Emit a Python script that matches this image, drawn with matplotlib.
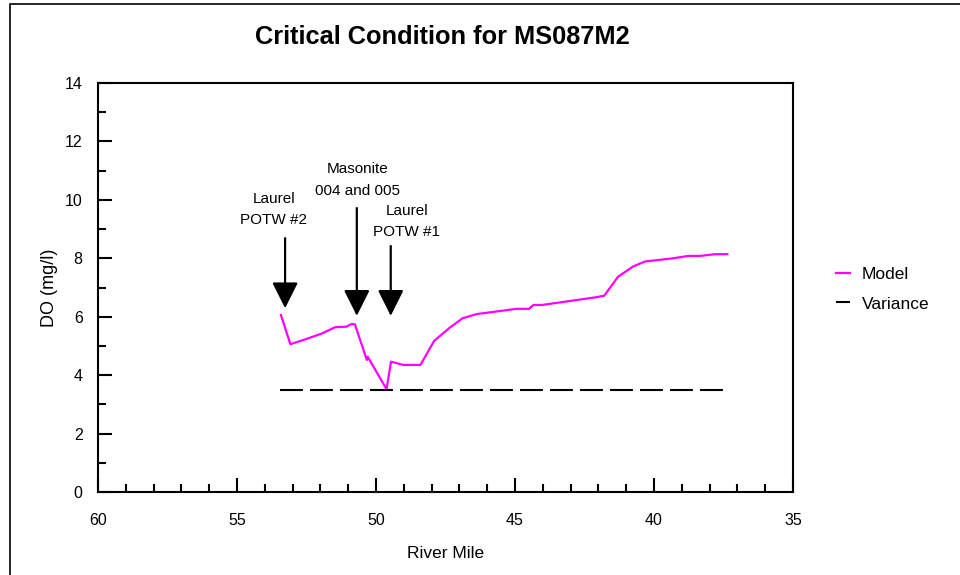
import matplotlib
matplotlib.use("Agg")
import matplotlib.pyplot as plt
from matplotlib.patches import Rectangle
from matplotlib.ticker import MultipleLocator

plt.rcParams['font.family'] = ['Liberation Sans', 'DejaVu Sans']

# model DO profile (river mile, mg/l)
model_mile = [53.42, 53.08, 52.62, 52.08, 51.96, 51.47, 51.06, 50.88, 50.76,
              50.33, 50.30, 49.62, 49.46, 49.02, 48.40, 47.91, 47.34, 46.88,
              46.38, 44.94, 44.49, 44.34, 44.04, 42.06, 41.79, 41.29, 40.75,
              40.32, 39.31, 38.77, 38.35, 37.81, 37.36]
model_do = [6.06, 5.06, 5.20, 5.38, 5.42, 5.64, 5.66, 5.75, 5.74,
            4.52, 4.63, 3.52, 4.46, 4.35, 4.35, 5.17, 5.63, 5.95,
            6.09, 6.27, 6.27, 6.40, 6.40, 6.67, 6.72, 7.37, 7.72,
            7.89, 8.00, 8.08, 8.08, 8.14, 8.14]

variance_mile = [53.47, 37.36]
variance_do = [3.5, 3.5]

# discharge markers: label, river mile, arrow tail, arrow tip
sources = ["Laurel\nPOTW #2", "Masonite\n004 and 005", "Laurel\nPOTW #1"]
source_mile = [53.27, 50.69, 49.47]
arrow_tail = [8.69, 9.72, 8.42]
arrow_tip = [6.29, 6.03, 6.03]
label_mile = [53.68, 50.65, 48.9]
label_y = [9.66, 10.68, 9.25]

fig = plt.figure(figsize=(9.6, 5.75), dpi=100)
ax = fig.add_axes([98 / 960, 1 - 492 / 575, 695 / 960, 409 / 575])

model_line, = ax.plot(model_mile, model_do, color='#ff00ff', lw=1.6)
var_line, = ax.plot(variance_mile, variance_do, color='black', lw=1.5)
var_line.set_dashes((11, 3.4))

for lab, xm, t0, t1, lx, ly in zip(sources, source_mile, arrow_tail, arrow_tip,
                                     label_mile, label_y):
    ax.annotate('', xy=(xm, t1), xytext=(xm, t0),
                arrowprops=dict(arrowstyle='-|>,head_width=0.4,head_length=0.8',
                                color='black', lw=1.6, shrinkA=0, shrinkB=0,
                                mutation_scale=20))
    ax.text(lx, ly, lab, ha='center', va='center', fontsize=11,
            linespacing=1.65)

ax.set_xlim(60, 35)
ax.set_ylim(0, 14)
ax.xaxis.set_major_locator(MultipleLocator(5))
ax.xaxis.set_minor_locator(MultipleLocator(1))
ax.yaxis.set_major_locator(MultipleLocator(2))
ax.yaxis.set_minor_locator(MultipleLocator(1))
ax.tick_params(which='both', direction='in', width=1.5, labelsize=11.5)
ax.tick_params(which='major', length=10)
ax.tick_params(which='minor', length=6)
ax.tick_params(axis='y', pad=11)
ax.tick_params(axis='x', pad=15)
for s in ax.spines.values():
    s.set_linewidth(1.5)

ax.set_xlabel('River Mile', fontsize=12.5, labelpad=13)
ax.set_ylabel('DO (mg/l)', fontsize=13, labelpad=5)
fig.text(442 / 960, 1 - 37 / 575, 'Critical Condition for MS087M2',
         ha='center', va='center', fontsize=18.3, fontweight='bold')

fig.legend([model_line, var_line], ['Model', 'Variance'],
           loc='center left', bbox_to_anchor=(820 / 960, 1 - 289 / 575),
           frameon=False, fontsize=12.5, handlelength=0.8, handletextpad=0.7,
           labelspacing=0.85)

fig.patches.append(Rectangle((9.5 / 960, -0.1), 1.2, 1.1 - 3.5 / 575,
                             transform=fig.transFigure, fill=False,
                             edgecolor='black', lw=1.2))

fig.savefig('out.png', dpi=100)
